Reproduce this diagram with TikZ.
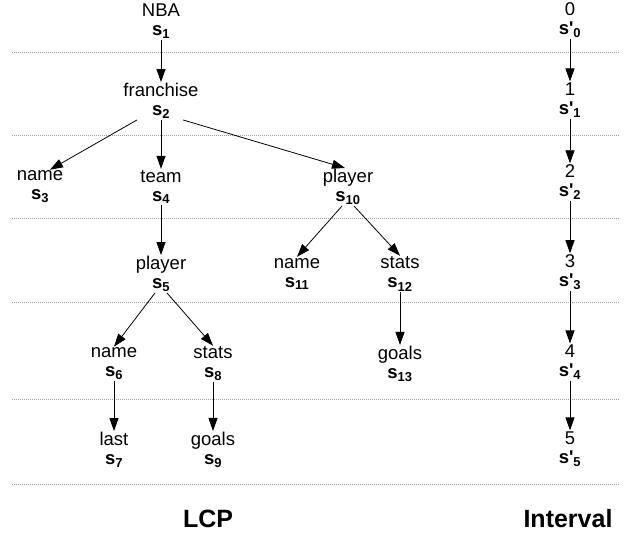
\documentclass[tikz,border=0pt]{standalone}
\usepackage{fontspec}
\setmainfont{Liberation Sans}
\usetikzlibrary{positioning,arrows.meta}
\definecolor{rulegray}{RGB}{160,160,160}
\newcommand{\snode}[2]{#1\\\textbf{s}\textsubscript{\textbf{#2}}}
\newcommand{\spnode}[2]{#1\\\textbf{s\textquotesingle}\textsubscript{\textbf{#2}}}

\begin{document}
\begin{tikzpicture}[x=1pt,y=-1pt,
  lbl/.style={align=center,inner sep=1pt,font=\fontsize{18.5}{19}\selectfont},
  edge/.style={-{Triangle[length=13pt,width=9pt]},line width=0.8pt},
  band/.style={rulegray,line width=0.5pt,dash pattern=on 1pt off 1pt},
  title/.style={font=\fontsize{25}{28}\selectfont\bfseries}]
\useasboundingbox (0,0) rectangle (627,538);

% Level separators
\foreach \y in {52,135,218,302,399,484}
  \draw[band] (12,\y) -- (620,\y);

% LCP tree
\node[lbl] (s1) at (161,21) {\snode{NBA}{1}};
\node[lbl] (s2) at (161,101) {\snode{franchise}{2}};
\node[lbl] (s3) at (40,187) {\snode{name}{3}};
\node[lbl] (s4) at (161,187) {\snode{team}{4}};
\node[lbl] (s10) at (348,187) {\snode{player}{10}};
\node[lbl] (s5) at (161,274) {\snode{player}{5}};
\node[lbl] (s11) at (297,274) {\snode{name}{11}};
\node[lbl] (s12) at (400,274) {\snode{stats}{12}};
\node[lbl] (s6) at (114,364) {\snode{name}{6}};
\node[lbl] (s8) at (213,364) {\snode{stats}{8}};
\node[lbl] (s13) at (400,364) {\snode{goals}{13}};
\node[lbl] (s7) at (114,450) {\snode{last}{7}};
\node[lbl] (s9) at (213,450) {\snode{goals}{9}};

\draw[edge] (s1) -- (s2);
\draw[edge] ([xshift=-24pt]s2.south) -- ([xshift=10pt]s3.north);
\draw[edge] (s2) -- (s4);
\draw[edge] ([xshift=22pt]s2.south) -- ([xshift=-3pt]s10.north);
\draw[edge] (s4) -- (s5);
\draw[edge] ([xshift=-6pt]s5.south) -- (s6.north);
\draw[edge] ([xshift=6pt]s5.south) -- (s8.north);
\draw[edge] (s6) -- (s7);
\draw[edge] (s8) -- (s9);
\draw[edge] ([xshift=-6pt]s10.south) -- (s11.north);
\draw[edge] ([xshift=6pt]s10.south) -- (s12.north);
\draw[edge] (s12) -- (s13);

% Interval chain
\node[lbl] (p0) at (570,20) {\spnode{0}{0}};
\node[lbl] (p1) at (570,100) {\spnode{1}{1}};
\node[lbl] (p2) at (570,182) {\spnode{2}{2}};
\node[lbl] (p3) at (570,272) {\spnode{3}{3}};
\node[lbl] (p4) at (570,362) {\spnode{4}{4}};
\node[lbl] (p5) at (570,449) {\spnode{5}{5}};
\foreach \a/\b in {p0/p1,p1/p2,p2/p3,p3/p4,p4/p5}
  \draw[edge] (\a) -- (\b);

% Titles
\node[title] (lcp) at (208,519) {LCP};
\node[title] (ivl) at (568,519) {Interval};
\end{tikzpicture}
\end{document}
